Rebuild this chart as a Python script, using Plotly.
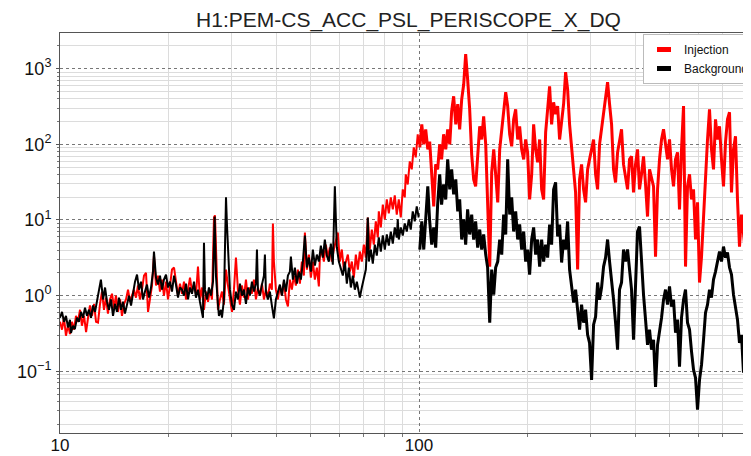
import plotly.graph_objects as go

# ASD of the periscope accelerometer
# low-frequency part (10-100 Hz), own frequency samples per curve
inj_freq_lo = [
    10.0, 10.13, 10.26, 10.39, 10.53, 10.66, 10.8, 10.94, 11.08, 11.22, 11.37, 11.51, 11.67, 11.82, 11.97,
    12.12, 12.28, 12.44, 12.6, 12.76, 12.92, 13.09, 13.26, 13.43, 13.6, 13.78, 13.96, 14.14, 14.32, 14.51,
    14.7, 14.88, 15.08, 15.27, 15.47, 15.67, 15.87, 16.07, 16.28, 16.49, 16.7, 16.92, 17.14, 17.36, 17.59,
    17.81, 18.04, 18.27, 18.51, 18.75, 18.99, 19.24, 19.48, 19.74, 19.99, 20.25, 20.51, 20.78, 21.04, 21.32,
    21.59, 21.87, 22.15, 22.44, 22.73, 23.02, 23.32, 23.62, 23.92, 24.23, 24.54, 24.86, 25.18, 25.5, 25.84,
    26.17, 26.51, 26.85, 27.02, 27.19, 27.54, 27.9, 28.26, 28.62, 29.0, 29.37, 29.74, 30.13, 30.52, 30.91,
    31.3, 31.71, 32.12, 32.53, 32.96, 33.38, 33.81, 34.25, 34.69, 35.14, 35.59, 36.05, 36.52, 36.99, 37.46,
    37.94, 38.43, 38.93, 39.18, 39.43, 39.94, 40.46, 40.98, 41.51, 42.05, 42.59, 43.14, 43.69, 44.25, 44.82,
    45.4, 45.98, 46.58, 47.18, 47.79, 48.1, 48.72, 49.35, 49.98, 50.63, 51.28, 51.94, 52.61, 52.95, 53.63,
    54.32, 55.02, 55.73, 56.45, 57.17, 57.91, 58.66, 59.42, 60.19, 60.96, 61.75, 62.55, 63.36, 64.17, 65.0,
    65.84, 66.69, 67.55, 68.42, 69.3, 70.2, 71.11, 72.02, 72.94, 73.88, 74.84, 75.8, 76.78, 77.28, 78.28,
    79.29, 80.3, 81.34, 82.39, 83.45, 84.53, 85.61, 86.72, 87.83, 88.97, 90.11, 91.27, 91.86, 93.04, 94.25,
    95.46, 96.69, 97.94, 99.19, 99.83,
]
inj_amp_lo = [
    0.45, 0.355, 0.51, 0.295, 0.41, 0.31, 0.45, 0.355, 0.54, 0.45, 0.65, 0.40, 0.54, 0.33, 0.51,
    0.74, 0.54, 0.78, 0.45, 0.44, 0.76, 1.13, 0.65, 0.94, 0.58, 0.89, 1.06, 0.69, 1.0, 0.61,
    0.89, 0.54, 0.78, 0.89, 1.2, 0.83, 1.0, 1.2, 0.94, 1.36, 0.89, 1.2, 1.84, 2.0, 0.61,
    0.94, 1.36, 3.39, 1.36, 1.84, 1.13, 1.63, 1.0, 1.53, 0.89, 1.36, 2.21, 2.35, 1.53, 1.0,
    1.44, 1.06, 1.53, 0.89, 1.2, 1.73, 1.13, 1.4, 1.03, 2.43, 0.89, 1.28, 0.65, 1.13, 0.83,
    1.2, 0.89, 10.8, 11.5, 4.07, 0.65, 0.89, 1.13, 0.76, 2.21, 1.36, 0.89, 0.61, 1.2, 3.19,
    1.2, 0.76, 1.36, 0.94, 1.63, 0.89, 1.28, 1.06, 1.63, 0.89, 1.28, 1.0, 1.44, 0.89, 1.2,
    0.94, 1.44, 1.2, 8.99, 2.82, 1.2, 0.89, 1.36, 1.0, 1.53, 0.89, 0.72, 1.63, 1.2, 1.84,
    1.36, 2.21, 1.44, 2.82, 1.84, 6.84, 2.21, 3.49, 1.73, 2.82, 1.63, 2.35, 1.32, 3.19, 4.07,
    2.82, 4.73, 3.19, 4.33, 2.82, 4.07, 5.52, 6.84, 2.82, 4.07, 2.21, 2.82, 3.49, 2.08, 2.82,
    1.73, 3.49, 2.21, 3.83, 2.82, 4.73, 3.19, 10.8, 4.07, 7.48, 4.73, 9.6, 5.88, 13.0, 7.96,
    16.0, 10.2, 18.7, 12.2, 19.9, 13.8, 21.1, 11.8, 18.7, 10.8, 25.4, 19.9, 40.1, 29.5, 59.5,
    46.7, 91.3, 67.3, 136, 100,
]

bg_freq_lo = [
    10.0, 10.13, 10.26, 10.39, 10.53, 10.66, 10.73, 10.87, 11.0, 11.15, 11.29, 11.44, 11.59, 11.74, 11.89,
    12.04, 12.2, 12.36, 12.52, 12.68, 12.84, 13.0, 13.18, 13.35, 13.52, 13.69, 13.87, 14.05, 14.23, 14.41,
    14.6, 14.79, 14.98, 15.17, 15.37, 15.57, 15.77, 15.97, 16.18, 16.39, 16.6, 16.81, 17.03, 17.25, 17.47,
    17.7, 17.93, 18.16, 18.27, 18.51, 18.75, 18.99, 19.24, 19.48, 19.74, 19.99, 20.25, 20.51, 20.78, 21.04,
    21.32, 21.59, 21.87, 22.15, 22.44, 22.73, 23.02, 23.32, 23.62, 23.92, 24.23, 24.54, 24.86, 25.02, 25.18,
    25.34, 25.67, 26.0, 26.34, 26.68, 26.97, 27.19, 27.54, 27.72, 28.08, 28.26, 28.62, 29.0, 29.18, 29.37,
    29.56, 29.74, 30.13, 30.52, 30.91, 31.3, 31.71, 32.12, 32.53, 32.96, 33.38, 33.81, 34.25, 34.69, 35.14,
    35.37, 35.59, 36.05, 36.52, 36.99, 37.22, 37.46, 37.94, 38.43, 38.93, 39.43, 39.94, 40.46, 40.98, 41.51,
    42.05, 42.59, 43.14, 43.69, 43.97, 44.54, 45.11, 45.69, 46.28, 46.88, 47.48, 48.1, 48.72, 49.35, 49.98,
    50.63, 51.28, 51.94, 52.61, 53.29, 53.97, 54.67, 55.37, 56.09, 56.81, 57.54, 58.29, 58.66, 59.04, 59.8,
    60.57, 61.35, 62.15, 62.95, 63.76, 64.59, 65.42, 66.26, 67.12, 67.99, 68.42, 69.3, 70.2, 71.11, 71.56,
    72.02, 72.48, 73.42, 74.36, 75.32, 76.29, 77.28, 78.28, 79.29, 80.3, 81.34, 82.39, 83.45, 84.53, 85.61,
    86.72, 87.27, 87.83, 88.97, 90.11, 91.27, 92.45, 93.64, 94.85, 96.07, 97.31, 98.56, 99.83,
]
bg_amp_lo = [
    0.51, 0.61, 0.45, 0.54, 0.38, 0.48, 0.32, 0.40, 0.36, 0.51, 0.45, 0.61, 0.51, 0.69, 0.54,
    0.65, 0.51, 0.74, 0.61, 0.89, 1.13, 1.63, 0.89, 1.28, 0.83, 0.65, 0.89, 0.54, 0.78, 0.61,
    0.94, 0.65, 0.83, 0.58, 0.76, 1.0, 0.74, 1.13, 1.53, 1.9, 1.2, 1.53, 0.89, 1.13, 1.4,
    0.94, 1.28, 2.08, 3.83, 1.73, 1.4, 1.84, 1.2, 1.63, 1.9, 1.28, 1.53, 1.13, 1.84, 1.4,
    0.94, 1.28, 1.2, 1.0, 1.44, 0.89, 1.28, 1.06, 1.53, 0.94, 1.2, 0.83, 0.61, 0.51, 5.0,
    1.2, 0.89, 1.28, 1.0, 1.53, 11.1, 1.84, 0.76, 0.54, 0.65, 0.51, 0.89, 20.0, 8.72, 5.0,
    2.74, 1.2, 0.76, 0.65, 1.13, 0.89, 1.44, 1.0, 1.2, 0.78, 1.28, 1.0, 1.53, 1.13, 1.44,
    4.07, 1.2, 1.0, 1.4, 1.84, 3.49, 1.13, 0.89, 1.13, 0.74, 0.50, 0.89, 1.13, 1.4, 1.0,
    1.63, 1.13, 1.84, 2.08, 3.28, 1.63, 2.35, 1.44, 2.08, 1.63, 2.82, 6.24, 2.35, 3.19, 2.08,
    4.07, 2.49, 3.49, 2.82, 4.59, 3.19, 5.52, 3.39, 2.82, 4.88, 2.57, 27.8, 10.8, 4.33, 2.82,
    2.21, 1.84, 2.82, 1.44, 2.35, 1.28, 1.84, 1.2, 1.53, 1.06, 0.94, 1.28, 1.63, 2.21, 4.07,
    10.8, 2.82, 4.07, 2.65, 4.73, 3.39, 5.88, 3.83, 6.24, 4.07, 6.43, 4.59, 7.03, 4.88, 7.96,
    5.88, 10.2, 5.52, 7.96, 6.24, 8.99, 7.03, 10.2, 7.48, 13.0, 9.6, 15.1, 10.8,
]

# high-frequency part (100-830 Hz), shared frequency samples
freq_hi = [
    100.5, 101.8, 103.1, 104.4, 105.8, 107.1, 108.5, 109.9, 111.3, 112.7, 114.2, 115.6, 117.1, 118.7, 120.2,
    121.8, 123.3, 124.9, 126.6, 128.2, 129.8, 131.5, 133.2, 134.9, 136.6, 138.4, 140.2, 142.0, 143.8, 145.7,
    147.6, 149.5, 151.4, 153.4, 155.3, 157.4, 159.4, 161.5, 163.5, 165.7, 167.8, 170.0, 172.1, 174.4, 176.6,
    178.9, 181.2, 183.5, 185.9, 188.3, 190.7, 193.2, 195.7, 198.2, 200.7, 203.3, 206.0, 208.6, 211.3, 214.0,
    216.8, 219.6, 222.4, 225.3, 228.2, 231.1, 234.1, 237.1, 240.2, 243.3, 246.4, 249.6, 252.8, 256.1, 259.4,
    262.7, 266.1, 269.6, 273.0, 276.6, 280.1, 283.7, 287.4, 291.1, 294.9, 298.6, 302.5, 306.4, 310.4, 314.4,
    318.4, 322.5, 326.7, 330.9, 335.2, 339.5, 343.9, 348.3, 352.8, 357.4, 361.9, 366.6, 371.3, 376.1, 381.0,
    385.9, 390.9, 395.9, 401.0, 406.2, 411.4, 416.7, 422.1, 427.6, 433.1, 438.7, 444.3, 450.1, 455.9, 461.8,
    467.7, 473.8, 479.9, 486.1, 492.4, 498.7, 505.2, 511.7, 518.3, 525.0, 531.7, 538.6, 545.6, 552.6, 559.7,
    567.0, 574.3, 581.7, 589.2, 596.8, 604.5, 612.3, 620.2, 628.2, 636.3, 644.5, 652.8, 661.2, 669.8, 678.4,
    687.2, 696.0, 705.0, 714.1, 723.3, 732.7, 742.1, 751.7, 761.4, 771.2, 781.2, 791.2, 801.4, 811.8, 822.2,
    832.8,
]
inj_amp_hi = [
    91.3, 184, 100, 158, 85.9, 109, 40.1, 15.1, 54.3, 46.7, 100, 63.3, 136, 85.9, 158,
    100, 274, 432, 184, 339, 158, 394, 623, 1560, 726, 291, 73.8, 34.4, 27.8, 85.9,
    173, 116, 235, 100, 21.8, 2.42, 42.6, 85.9, 40.1, 17.1, 85.9, 158, 250, 488, 320,
    136, 94.1, 214, 291, 116, 173, 85.9, 63.3, 116, 78.4, 18.7, 40.1, 184, 85.9, 57.8,
    116, 25.4, 18.7, 144, 291, 586, 184, 360, 250, 320, 116, 184, 339, 899, 535,
    184, 85.9, 40.1, 23.2, 2.21, 34.4, 54.3, 25.4, 17.1, 46.7, 63.3, 85.9, 116, 40.1, 25.4,
    100, 158, 274, 394, 662, 339, 184, 46.7, 31.4, 78.4, 116, 158, 54.3, 34.4, 25.4,
    63.3, 69.4, 23.2, 54.3, 85.9, 25.4, 40.1, 69.4, 29.5, 11.1, 46.7, 34.4, 27.8, 3.28, 25.4,
    63.3, 116, 158, 106, 63.3, 116, 46.7, 27.8, 63.3, 78.4, 13.8, 85.9, 320, 2.42, 27.8,
    40.1, 18.7, 25.4, 5.52, 17.1, 1.49, 3.28, 11.8, 27.8, 116, 291, 85.9, 46.7, 214, 116,
    173, 63.3, 27.8, 106, 214, 266, 23.2, 85.9, 128, 18.7, 4.45, 11.8, 6.83, 3.71, 63.3,
    5.52,
]
bg_amp_hi = [
    4.07, 9.56, 4.07, 11.8, 27.8, 9.56, 4.73, 7.96, 4.32, 16.0, 40.1, 16.0, 29.5, 18.7, 63.3,
    25.4, 46.7, 21.8, 34.4, 13.0, 18.7, 5.52, 10.2, 4.73, 13.8, 6.43, 11.8, 5.52, 9.56, 4.32,
    7.48, 4.07, 6.43, 3.49, 2.35, 0.439, 2.21, 1.03, 2.35, 2.82, 5.52, 3.49, 11.8, 6.43, 63.3,
    11.8, 19.9, 7.04, 13.0, 5.52, 8.72, 4.07, 7.04, 2.82, 4.07, 1.90, 5.52, 7.96, 3.49, 5.52,
    2.42, 5.52, 2.82, 4.73, 3.18, 8.72, 4.73, 25.4, 31.4, 6.05, 8.72, 2.74, 5.52, 4.07, 9.56,
    2.21, 1.40, 0.808, 1.20, 0.596, 0.355, 0.760, 0.439, 0.653, 0.304, 0.238, 0.077, 0.413, 0.527, 1.49,
    0.885, 1.28, 2.42, 3.18, 5.52, 2.82, 1.63, 0.885, 0.439, 0.193, 1.20, 1.49, 4.07, 2.82, 4.07,
    2.21, 1.20, 0.261, 1.49, 7.04, 8.21, 2.35, 1.03, 0.481, 0.224, 0.355, 0.193, 0.261, 0.062, 0.224,
    0.324, 0.511, 0.885, 1.20, 0.760, 1.32, 0.715, 0.885, 0.324, 0.481, 0.115, 0.511, 0.885, 1.20, 0.439,
    0.355, 0.182, 0.105, 0.082, 0.031, 0.077, 0.122, 0.261, 0.596, 0.760, 1.20, 0.94, 1.63, 2.08, 2.82,
    3.83, 2.82, 4.45, 3.18, 3.71, 2.35, 1.90, 1.03, 0.715, 0.481, 0.238, 0.304, 0.096, 0.389, 1.79,
    1.10,
]

y_ticks = [0.1, 1, 10, 100, 1000]
y_ticktext = ["10<sup>\u22121</sup>", "10<sup>0</sup>", "10<sup>1</sup>", "10<sup>2</sup>", "10<sup>3</sup>"]
x_ticks = [10, 100]
x_ticktext = ["10", "100"]

y_minor = [m * 10.0 ** e for e in range(-2, 4) for m in range(2, 10)]
x_minor = [m * 10.0 ** e for e in range(1, 3) for m in range(2, 10)]

FONT = "Liberation Sans, Arial, Helvetica, sans-serif"

fig = go.Figure()
# the dense high-frequency stretch is drawn heavier, like the thick noisy band in the original
curves = [
    (inj_freq_lo, inj_amp_lo, "#ff0000", 2.0),
    (freq_hi, inj_amp_hi, "#ff0000", 3.0),
    (bg_freq_lo, bg_amp_lo, "#000000", 2.0),
    (freq_hi, bg_amp_hi, "#000000", 3.0),
]
for fx, fy, col, w in curves:
    fig.add_trace(go.Scatter(x=fx, y=fy, mode="lines", line=dict(color=col, width=w),
                             showlegend=False, hoverinfo="skip"))
# legend patches
for name, col in [("Injection", "#ff0000"), ("Background", "#000000")]:
    fig.add_trace(go.Scatter(x=[None], y=[None], mode="markers", name=name,
                             marker=dict(symbol="line-ew", size=10, color=col, line=dict(width=5, color=col))))

axis_common = dict(
    type="log", showline=True, linecolor="#555555", linewidth=1,
    showgrid=True, gridcolor="#777777", griddash="dot", gridwidth=1,
    zeroline=False,
)
fig.update_xaxes(**axis_common, range=[1, 2.9248], tickvals=x_ticks, ticktext=x_ticktext, mirror=True,
                 ticks="", ticklabelstandoff=-3, tickfont=dict(family=FONT, size=17, color="#111111"),
                 minor=dict(tickvals=x_minor, showgrid=True, gridcolor="#dcdcdc", griddash="solid",
                            ticks="outside", ticklen=3, tickcolor="#777777"))
fig.update_yaxes(**axis_common, range=[-1.816, 3.472], tickvals=y_ticks, ticktext=y_ticktext,
                 ticks="outside", ticklen=3, tickcolor="#555555", ticklabelstandoff=1,
                 tickfont=dict(family=FONT, size=18, color="#111111"),
                 minor=dict(tickvals=y_minor, showgrid=True, gridcolor="#dcdcdc", griddash="solid",
                            ticks="outside", ticklen=2, tickcolor="#777777"))

# the page body adds an 8px margin, so the figure is 8px smaller than the window
fig.update_layout(
    width=743, height=448,
    margin=dict(l=52, r=0, t=25, b=23, autoexpand=False),
    paper_bgcolor="white", plot_bgcolor="white",
    font=dict(family=FONT, color="#111111"),
    title=dict(text="H1:PEM-CS_ACC_PSL_PERISCOPE_X_DQ", font=dict(family=FONT, size=21, color="#222222"),
               x=0.539, xref="container", xanchor="center", y=0.973, yref="container", yanchor="middle"),
    legend=dict(x=0.8437, y=0.9975, xanchor="left", yanchor="top", bgcolor="white",
                bordercolor="#bbbbbb", borderwidth=1, font=dict(family=FONT, size=12, color="#111111"),
                itemwidth=30, tracegroupgap=0),
)

fig.write_html("out.html")
